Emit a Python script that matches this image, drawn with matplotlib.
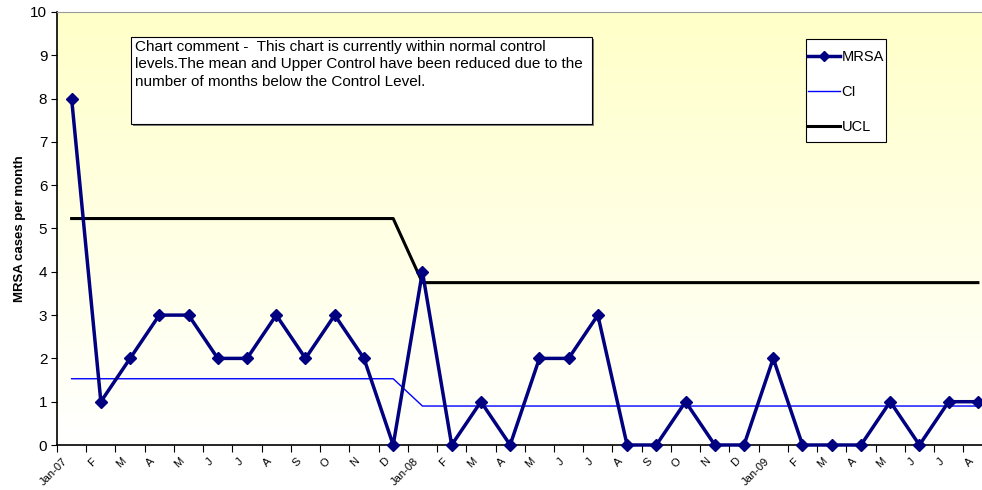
import matplotlib

matplotlib.use("Agg")
import matplotlib.pyplot as plt
import numpy as np
from matplotlib.patches import Rectangle

plt.rcParams["font.family"] = ["Liberation Sans", "DejaVu Sans"]

# monthly categories Jan-07 .. Aug-09
months = ["Jan-07", "F", "M", "A", "M", "J", "J", "A", "S", "O", "N", "D",
          "Jan-08", "F", "M", "A", "M", "J", "J", "A", "S", "O", "N", "D",
          "Jan-09", "F", "M", "A", "M", "J", "J", "A"]
mrsa = [8, 1, 2, 3, 3, 2, 2, 3, 2, 3, 2, 0,
        4, 0, 1, 0, 2, 2, 3, 0, 0, 1, 0, 0,
        2, 0, 0, 0, 1, 0, 1, 1]
cl = [1.53] * 12 + [0.9] * 20
ucl = [5.23] * 12 + [3.75] * 20

comment = ("Chart comment -  This chart is currently within normal control\n"
           "levels.The mean and Upper Control have been reduced due to the\n"
           "number of months below the Control Level.")

fig = plt.figure(figsize=(9.82, 4.90), dpi=100)
ax = fig.add_axes([57 / 982, 45 / 490, 925 / 982, 433 / 490])

x = np.arange(len(months))

# yellow -> white gradient in the plot area
grad = np.linspace(0, 1, 256).reshape(-1, 1)
top = np.array([255, 255, 200]) / 255
bot = np.array([255, 255, 255]) / 255
img = top + (bot - top) * grad[..., None]
ax.imshow(img, extent=[0, 1, 0, 1], transform=ax.transAxes, aspect="auto", zorder=0)

ax.plot(x, ucl, color="black", linewidth=2.2, label="UCL", zorder=2)
ax.plot(x, cl, color="#0000ff", linewidth=1.0, label="CI", zorder=2)
ax.plot(x, mrsa, color="#000080", linewidth=2.5, marker="D", markersize=6,
        label="MRSA", zorder=3, clip_on=False)

ax.set_xlim(-0.5, 31.14)
ax.set_ylim(0, 10)
ax.set_yticks(range(0, 11))
ax.tick_params(axis="y", labelsize=11, length=4, direction="out", pad=3)

ax.set_xticks(x - 0.5, minor=False)
ax.set_xticklabels([])
ax.set_xticks(x - 0.32, minor=True)
ax.set_xticklabels(months, minor=True, rotation=45, ha="right",
                   rotation_mode="anchor", fontsize=8)
ax.tick_params(axis="x", which="minor", length=0, pad=8)
ax.tick_params(axis="x", which="major", length=5, direction="out")

ax.set_ylabel("MRSA cases per month", fontsize=9.5, fontweight="bold", labelpad=3)

ax.spines["right"].set_visible(False)
ax.spines["top"].set_color("#999999")
ax.spines["left"].set_linewidth(1.2)
ax.spines["bottom"].set_linewidth(1.2)

# comment box with shadow
fig.patches.append(Rectangle((133 / 982, 1 - 126 / 490), 461 / 982, 87 / 490,
                             transform=fig.transFigure, facecolor="#808080",
                             edgecolor="none", zorder=4))
fig.patches.append(Rectangle((131 / 982, 1 - 124 / 490), 461 / 982, 87 / 490,
                             transform=fig.transFigure, facecolor="white",
                             edgecolor="black", linewidth=0.8, zorder=5))
fig.text(135 / 982, 1 - 40 / 490, comment, fontsize=11, va="top", ha="left",
         linespacing=1.3, zorder=6)

# legend box drawn by hand so the padding can differ per side
fig.patches.append(Rectangle((806 / 982, 1 - 142 / 490), 80 / 982, 103 / 490,
                             transform=fig.transFigure, facecolor="white",
                             edgecolor="black", linewidth=0.8, zorder=4))
handles, labels = ax.get_legend_handles_labels()
order = [2, 1, 0]
leg = fig.legend([handles[i] for i in order], [labels[i] for i in order],
                 loc="upper left", bbox_to_anchor=(808 / 982, 1 - 50 / 490),
                 frameon=False, fontsize=10.5, handlelength=2.2,
                 labelspacing=1.45, handletextpad=0.1, borderpad=0,
                 borderaxespad=0, markerscale=0.8)
leg.set_zorder(5)

fig.savefig("out.png", dpi=100)
